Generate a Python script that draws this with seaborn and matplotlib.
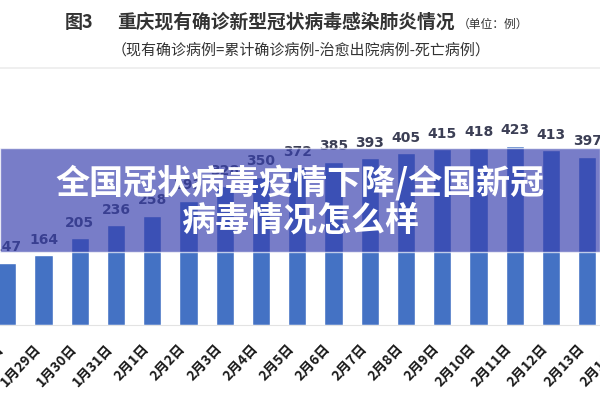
import matplotlib
matplotlib.use("Agg")
import matplotlib.pyplot as plt
from matplotlib.patches import Rectangle
from matplotlib.lines import Line2D
from matplotlib.transforms import ScaledTranslation
import seaborn as sns
import pandas as pd

# data (2月2日 / 2月3日 partly hidden by the banner)
dates = ["1月28日", "1月29日", "1月30日", "1月31日", "2月1日", "2月2日", "2月3日",
         "2月4日", "2月5日", "2月6日", "2月7日", "2月8日", "2月9日", "2月10日",
         "2月11日", "2月12日", "2月13日"]
cases = [147, 164, 205, 236, 258, 293, 328, 350, 372, 385, 393, 405, 415, 418,
         423, 413, 397]
next_label = "2月14日"

title = "重庆现有确诊新型冠状病毒感染肺炎情况"
subtitle = "（现有确诊病例=累计确诊病例-治愈出院病例-死亡病例）"
banner = ["全国冠状病毒疫情下降/全国新冠", "病毒情况怎么样"]

sns.set_style("white")
plt.rcParams["font.family"] = ["Noto Sans CJK SC", "DejaVu Sans"]

df = pd.DataFrame({"date": dates, "cases": cases})

fig = plt.figure(figsize=(6, 4), dpi=100)
ax = fig.add_axes([0, 75 / 400, 1, 212 / 400])

sns.barplot(data=df, x="date", y="cases", order=dates, color="#4472C4",
            width=0.5, saturation=1, ax=ax)
ax.bar_label(ax.containers[0], padding=6, fontsize=10, fontweight="bold",
             color="#3c3f55", family="DejaVu Sans")

ax.set_xlabel("")
ax.set_ylabel("")
ax.set_yticks([])
for s in ["top", "left", "right"]:
    ax.spines[s].set_visible(False)
ax.spines["bottom"].set_color("#e3e3e3")

pad = 12
ax.tick_params(axis="x", length=0, pad=pad)
ax.set_xticks(range(len(dates)))
ax.set_xticklabels(dates, rotation=47, ha="right", fontsize=10,
                   fontweight="bold", color="#1a1a1a")
ax.set_xticks([i + 0.5 for i in range(-1, len(dates))], minor=True)
ax.tick_params(axis="x", which="minor", length=5, color="#e0e0e0", width=1)
# the screenshot is cropped: first bar sits at the left edge, last at the right
ax.set_xlim(-0.2, 16.35)
ax.set_ylim(0, 500)
# the next date's label is only partly in frame (its bar is off to the right)
off = ax.get_xaxis_transform() + ScaledTranslation(0, -pad / 72, fig.dpi_scale_trans)
ax.text(len(dates), 0, next_label, transform=off, rotation=47, ha="right",
        va="top", fontsize=10, fontweight="bold", color="#1a1a1a", clip_on=False)

# header
fig.text(65 / 600, 1 - 22 / 400, "图3", fontsize=13, fontweight="bold",
         color="#333333", va="center", ha="left")
fig.text(117 / 600, 1 - 22 / 400, title, fontsize=13.5, fontweight="bold",
         color="#333333", va="center", ha="left")
fig.text(458 / 600, 1 - 24 / 400, "（单位：例）", fontsize=8.5,
         color="#333333", va="center", ha="left")
fig.text(301 / 600, 1 - 50 / 400, subtitle, fontsize=10.8,
         color="#333333", va="center", ha="center")
fig.add_artist(Line2D([0, 1], [1 - 68 / 400] * 2, color="#ececec", lw=1.2))

# overlay banner
fig.add_artist(Rectangle((0, 1 - 252 / 400), 1, 104 / 400,
                         transform=fig.transFigure, facecolor=(56 / 255, 64 / 255, 174 / 255),
                         alpha=0.68, zorder=10))
fig.text(0.5, 1 - 183 / 400, banner[0], fontsize=24.5, fontweight="heavy",
         color="white", ha="center", va="center", zorder=11)
fig.text(0.5, 1 - 220 / 400, banner[1], fontsize=24.5, fontweight="heavy",
         color="white", ha="center", va="center", zorder=11)

fig.savefig("out.png", dpi=100, facecolor="white")
